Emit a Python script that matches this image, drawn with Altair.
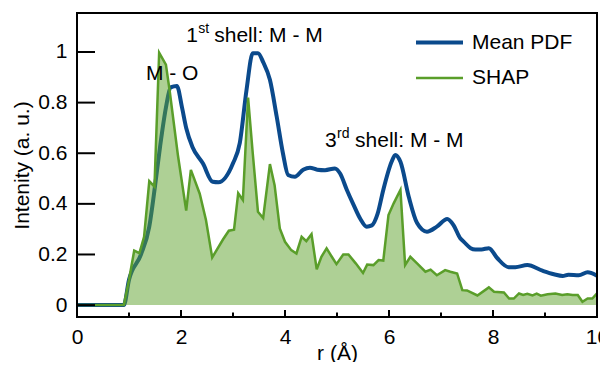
import altair as alt
import pandas as pd

# ---- data ----
pdf_r = [0.0, 0.5, 0.9, 1.0, 1.23, 1.39, 1.5, 1.6, 1.71, 1.8, 1.92, 2.02, 2.1, 2.22, 2.42, 2.61, 2.72,
         3.0, 3.13, 3.26, 3.38, 3.48, 3.58, 3.71, 3.84, 3.96, 4.06, 4.19, 4.35, 4.48, 4.62, 4.77, 4.96,
         5.06, 5.19, 5.31, 5.45, 5.57, 5.67, 5.78, 5.89, 6.05, 6.12, 6.22, 6.38, 6.54, 6.73, 6.92, 7.12,
         7.24, 7.37, 7.44, 7.57, 7.66, 7.78, 7.92, 8.08, 8.3, 8.43, 8.66, 8.95, 9.17, 9.34, 9.45, 9.65,
         9.82, 10.0]
pdf_v = [0.0, 0.0, 0.0, 0.10, 0.20, 0.31, 0.47, 0.63, 0.78, 0.86, 0.866, 0.78, 0.70, 0.625, 0.56, 0.487, 0.485,
         0.56, 0.64, 0.85, 0.995, 0.995, 0.96, 0.89, 0.745, 0.60, 0.514, 0.507, 0.535, 0.543, 0.535, 0.533, 0.54,
         0.52, 0.455, 0.40, 0.34, 0.31, 0.315, 0.36, 0.455, 0.566, 0.593, 0.566, 0.428, 0.324, 0.29, 0.31, 0.34,
         0.316, 0.264, 0.25, 0.225, 0.22, 0.22, 0.225, 0.186, 0.15, 0.15, 0.158, 0.136, 0.122, 0.115, 0.12, 0.118,
         0.13, 0.116]

shap_r = [0.0, 0.9, 1.0, 1.10, 1.20, 1.29, 1.39, 1.49, 1.58, 1.71, 1.78, 1.94, 2.1, 2.19, 2.36, 2.48, 2.6,
          2.81, 2.92, 3.02, 3.1, 3.19, 3.29, 3.38, 3.48, 3.58, 3.71, 3.8, 3.9, 4.0, 4.12, 4.22, 4.32, 4.41,
          4.51, 4.61, 4.7, 4.8, 4.9, 4.99, 5.12, 5.22, 5.36, 5.5, 5.58, 5.7, 5.8, 5.89, 5.99, 6.09, 6.22,
          6.31, 6.41, 6.54, 6.7, 6.8, 6.92, 7.08, 7.18, 7.31, 7.41, 7.5, 7.7, 7.92, 8.02, 8.21, 8.31, 8.4,
          8.5, 8.58, 8.66, 8.76, 8.84, 8.92, 9.05, 9.2, 9.33, 9.43, 9.53, 9.63, 9.72, 9.82, 9.91, 10.0]
shap_v = [0.0, 0.0, 0.10, 0.215, 0.205, 0.27, 0.49, 0.468, 0.997, 0.95, 0.85, 0.593, 0.373, 0.534, 0.44, 0.336, 0.188,
          0.26, 0.294, 0.298, 0.442, 0.415, 0.82, 0.60, 0.369, 0.344, 0.557, 0.474, 0.303, 0.25, 0.217, 0.204, 0.27, 0.253,
          0.28, 0.141, 0.191, 0.224, 0.191, 0.162, 0.2, 0.2, 0.165, 0.127, 0.16, 0.158, 0.178, 0.176, 0.356, 0.402, 0.455,
          0.158, 0.191, 0.165, 0.132, 0.14, 0.118, 0.138, 0.132, 0.125, 0.059, 0.058, 0.038, 0.07, 0.053, 0.05, 0.026, 0.026,
          0.046, 0.04, 0.045, 0.038, 0.045, 0.037, 0.043, 0.046, 0.04, 0.043, 0.04, 0.04, 0.013, 0.026, 0.026, 0.046]

series_names = ["Mean PDF", "SHAP"]
x_major = [0, 2, 4, 6, 8, 10]
x_minor = [1, 3, 5, 7, 9]
y_ticks = [0, 0.2, 0.4, 0.6, 0.8, 1.0]

mo_label = ["M - O"]
mo_r = [1.83]
mo_v = [0.889]
shell_num = ["1", "3"]
shell_sup = ["st", "rd"]
shell_rest = ["shell: M - M", "shell: M - M"]
shell_r = [2.10, 4.77]
shell_v = [1.04, 0.625]

# ---- styling ----
FONT = "Liberation Sans"
BLUE = "#0b4a8c"
GREEN = "#5a9e2a"
FILL = "#5da12b"
W, H = 520, 304

pdf_df = pd.DataFrame({"r": pdf_r, "v": pdf_v, "series": "Mean PDF"})
shap_df = pd.DataFrame({"r": shap_r, "v": shap_v, "series": "SHAP"})

xs = alt.Scale(domain=[0, 10], nice=False, zero=False)
ys = alt.Scale(domain=[-0.047, 1.154], nice=False, zero=False)

x_axis = alt.Axis(values=x_major, format="d", title="r (Å)", ticks=False, tickSize=0, domain=False,
                  grid=False, labelFontSize=21, titleFontSize=21, labelPadding=9,
                  titleBaseline="alphabetic", titleY=42, labelFlush=False)
y_axis = alt.Axis(values=y_ticks, format="~g", title="Intenity (a. u.)", ticks=False, tickSize=0,
                  domain=False, grid=False, labelFontSize=21, titleFontSize=21, labelPadding=10,
                  titlePadding=5)


def X(field):
    return alt.X(field, scale=xs, axis=x_axis, title="r (Å)")


def Y(field):
    return alt.Y(field, scale=ys, axis=y_axis, title="Intenity (a. u.)")


leg = alt.Legend(orient="none", legendX=337, legendY=4, symbolType="stroke", symbolSize=2209,
                 labelFontSize=21, labelFont=FONT, labelColor="black", labelOffset=7, padding=0,
                 rowPadding=-33)
color = alt.Color("series:N", scale=alt.Scale(domain=series_names, range=[BLUE, GREEN]), legend=leg, title=None)
sw = alt.StrokeWidth("series:N", scale=alt.Scale(domain=series_names, range=[4, 2.5]), legend=leg, title=None)

pdf_line = alt.Chart(pdf_df).mark_line(interpolate="monotone", clip=True).encode(
    x=X("r:Q"), y=Y("v:Q"), color=color, strokeWidth=sw,
)
shap_area = alt.Chart(shap_df).mark_area(color=FILL, opacity=0.5, clip=True).encode(
    x=X("r:Q"), y=Y("v:Q"), y2=alt.datum(0),
)
shap_line = alt.Chart(shap_df).mark_line(clip=True).encode(
    x=X("r:Q"), y=Y("v:Q"), color=color, strokeWidth=sw,
)

y_tick_layer = alt.Chart(pd.DataFrame({"t": y_ticks})).mark_rule(color="black", strokeWidth=2).encode(
    y=Y("t:Q"), x=alt.value(0), x2=alt.value(18))
xmaj_layer = alt.Chart(pd.DataFrame({"t": x_major})).mark_rule(color="black", strokeWidth=2).encode(
    x=X("t:Q"), y=alt.value(H), y2=alt.value(H - 7))
xmin_layer = alt.Chart(pd.DataFrame({"t": x_minor})).mark_rule(color="black", strokeWidth=2).encode(
    x=X("t:Q"), y=alt.value(H), y2=alt.value(H - 4.5))

# plot frame: the x and y extremes of the axes
vframe = alt.Chart(pd.DataFrame({"t": [0, 10]})).mark_rule(color="black", strokeWidth=2).encode(
    x=X("t:Q"), y=alt.value(0), y2=alt.value(H))
hframe = alt.Chart(pd.DataFrame({"t": [-0.047, 1.154]})).mark_rule(color="black", strokeWidth=2).encode(
    y=Y("t:Q"), x=alt.value(-1), x2=alt.value(W + 1))

mo_layer = alt.Chart(pd.DataFrame({"r": mo_r, "v": mo_v, "t": mo_label})).mark_text(
    font=FONT, fontSize=21, color="black", align="center", baseline="alphabetic").encode(
    x=X("r:Q"), y=Y("v:Q"), text="t:N")

shell_df = pd.DataFrame({"r": shell_r, "v": shell_v, "n": shell_num, "s": shell_sup, "rest": shell_rest})
num_layer = alt.Chart(shell_df).mark_text(font=FONT, fontSize=21, color="black", align="left",
                                          baseline="alphabetic").encode(
    x=X("r:Q"), y=Y("v:Q"), text="n:N")
sup_layer = alt.Chart(shell_df).mark_text(font=FONT, fontSize=14, color="black", align="left",
                                          baseline="alphabetic", dx=12, dy=-8.5).encode(
    x=X("r:Q"), y=Y("v:Q"), text="s:N")
rest1 = alt.Chart(shell_df.iloc[[0]]).mark_text(font=FONT, fontSize=21, color="black", align="left",
                                                baseline="alphabetic", dx=28).encode(
    x=X("r:Q"), y=Y("v:Q"), text="rest:N")
rest2 = alt.Chart(shell_df.iloc[[1]]).mark_text(font=FONT, fontSize=21, color="black", align="left",
                                                baseline="alphabetic", dx=30).encode(
    x=X("r:Q"), y=Y("v:Q"), text="rest:N")

chart = alt.layer(
    pdf_line, shap_area, shap_line, y_tick_layer, xmaj_layer, xmin_layer, vframe, hframe,
    mo_layer, num_layer, sup_layer, rest1, rest2,
).properties(
    width=W, height=H,
    autosize=alt.AutoSizeParams(type="none"),
    padding={"left": 69, "top": 5, "right": 3, "bottom": 45},
    background="white",
).configure_view(
    strokeWidth=0,
).configure_axis(
    labelFont=FONT, titleFont=FONT, labelColor="black", titleColor="black", titleFontWeight="normal",
)

chart.save("out.html", embed_options={"renderer": "svg", "actions": False})
